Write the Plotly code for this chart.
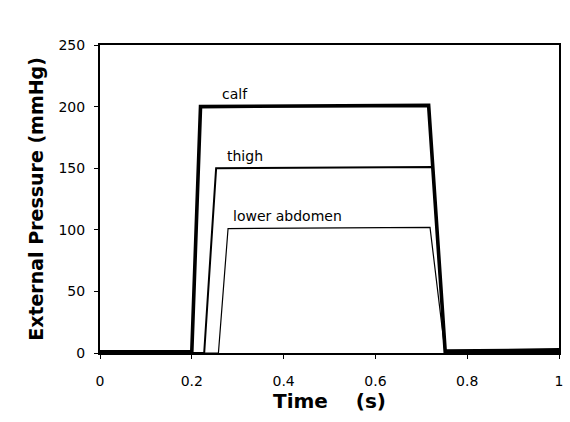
import plotly.graph_objects as go

# Time (s) and pressure (mmHg) for each cuff
calf_t = [0.0, 0.2, 0.219, 0.716, 0.752, 1.0]
calf_p = [1, 1, 200, 201, 1.5, 2.5]
thigh_t = [0.0, 0.227, 0.253, 0.725, 0.752, 1.0]
thigh_p = [0, 0, 150, 151, 0.5, 1]
abd_t = [0.0, 0.258, 0.279, 0.719, 0.752, 1.0]
abd_p = [0, 0, 101, 102, 0, 0.5]

label_text = ["calf", "thigh", "lower abdomen"]
label_x = [0.294, 0.316, 0.409]
label_y = [210, 160, 111]

x_ticks = [0, 0.2, 0.4, 0.6, 0.8, 1]
x_ticklabels = ["0", "0.2", "0.4", "0.6", "0.8", "1"]
y_ticks = [0, 50, 100, 150, 200, 250]

FONT = "DejaVu Sans, Liberation Sans, Arial"

fig = go.Figure()
fig.add_trace(go.Scatter(x=abd_t, y=abd_p, mode="lines",
                         line=dict(color="black", width=1.2), showlegend=False))
fig.add_trace(go.Scatter(x=thigh_t, y=thigh_p, mode="lines",
                         line=dict(color="black", width=2), showlegend=False))
fig.add_trace(go.Scatter(x=calf_t, y=calf_p, mode="lines",
                         line=dict(color="black", width=3.6), showlegend=False))

for t, x, y in zip(label_text, label_x, label_y):
    fig.add_annotation(x=x, y=y, text=t, showarrow=False,
                       font=dict(family=FONT, size=14, color="black"))

axis_font = dict(family=FONT, size=14, color="black")
fig.update_xaxes(range=[0, 1], tickvals=x_ticks, ticktext=x_ticklabels,
                 showgrid=False, zeroline=False, showline=True, linecolor="black",
                 linewidth=2, mirror=True, ticks="outside", ticklen=4, tickwidth=1,
                 tickcolor="black", tickfont=axis_font, ticklabelstandoff=10,
                 title=dict(text="<b>Time\u00a0\u00a0\u00a0\u00a0(s)</b>",
                            font=dict(family=FONT, size=20, color="black"),
                            standoff=6))
fig.update_yaxes(range=[0, 250], tickvals=y_ticks,
                 showgrid=False, zeroline=False, showline=True, linecolor="black",
                 linewidth=2, mirror=True, ticks="outside", ticklen=4, tickwidth=1,
                 tickcolor="black", tickfont=axis_font, ticklabelstandoff=6,
                 title=dict(text="<b>External Pressure (mmHg)</b>",
                            font=dict(family=FONT, size=19, color="black"),
                            standoff=10))
fig.update_layout(width=570, height=422, margin=dict(l=100, r=7, t=45, b=69),
                  plot_bgcolor="white", paper_bgcolor="white")
fig.write_html("out.html")
